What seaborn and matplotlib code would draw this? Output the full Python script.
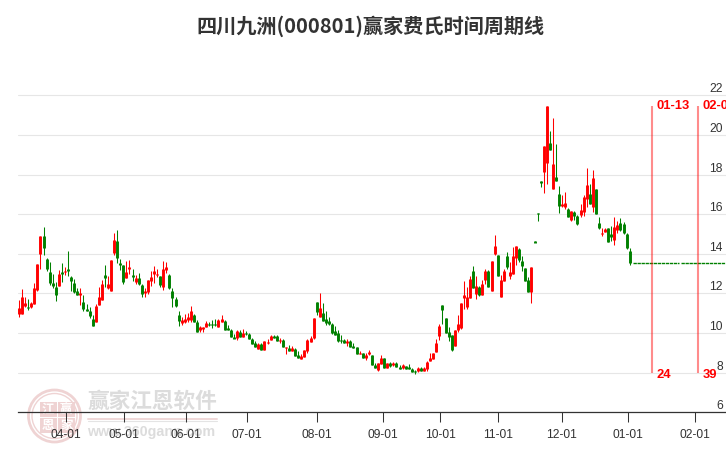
import seaborn as sns
import pandas as pd
import matplotlib.pyplot as plt
from matplotlib.patches import Circle, Rectangle

# daily candles
opens = [10.97,10.97,11.37,11.32,11.32,11.48,12.17,13.97,14.87,13.72,13.07,12.52,12.32,12.37,13.07,13.07,13.22,12.82,12.52,12.12,
 11.92,11.57,11.22,11.12,10.72,10.57,11.42,11.67,12.92,12.27,12.12,14.02,14.62,13.52,13.42,12.77,13.22,12.92,12.57,12.77,
 12.42,12.02,12.07,12.62,12.97,12.92,12.87,12.32,13.17,12.92,12.12,11.72,10.92,10.52,10.57,10.67,10.67,10.92,10.57,10.17,
 10.22,10.32,10.47,10.47,10.47,10.32,10.57,10.62,10.27,10.17,9.77,9.72,10.07,9.77,10.02,9.92,9.70,9.48,9.20,9.43,
 9.15,9.50,9.65,9.85,9.85,9.60,9.65,9.25,9.25,9.10,9.20,8.90,8.70,8.80,9.10,9.55,9.75,11.55,10.80,11.00,
 10.70,10.60,10.45,10.10,10.00,9.65,9.62,9.50,9.60,9.35,9.30,8.95,9.00,8.75,8.95,8.90,8.40,8.15,8.45,8.75,
 8.25,8.50,8.40,8.50,8.30,8.25,8.35,8.30,8.20,8.10,8.10,8.25,8.10,8.20,8.60,8.70,9.05,9.85,11.40,10.75,
 10.05,9.90,9.35,10.15,10.27,11.77,11.32,11.77,13.12,11.97,12.32,11.92,12.67,13.12,12.12,13.97,13.92,11.82,12.62,13.87,
 12.87,12.97,13.77,14.22,13.62,13.27,12.67,12.07,14.62,16.07,17.65,18.14,18.60,19.60,17.27,17.87,17.02,16.42,16.37,16.27,
 15.72,16.12,15.92,15.97,16.12,16.77,17.02,16.37,17.27,15.57,15.02,15.12,15.32,15.02,14.67,15.22,15.57,15.52,15.02,14.12]
closes = [11.27,11.80,11.52,11.27,11.52,12.25,13.50,14.87,14.27,13.22,12.50,12.37,11.92,13.00,12.97,13.12,13.12,12.62,12.07,11.92,
 12.02,11.22,11.12,10.87,10.37,11.37,11.82,12.47,12.77,12.47,13.67,14.67,13.77,13.42,12.57,13.07,13.32,12.82,12.77,12.47,
 11.97,12.12,12.67,12.82,13.12,12.97,12.42,13.22,13.32,12.27,11.77,11.37,10.62,10.67,10.72,10.82,11.12,10.57,10.07,10.32,
 10.32,10.52,10.42,10.42,10.42,10.67,10.72,10.17,10.17,9.77,9.72,10.12,9.77,10.02,9.92,9.67,9.45,9.30,9.45,9.15,
 9.60,9.55,9.85,9.75,9.60,9.65,9.30,9.30,9.10,9.25,8.85,8.75,8.85,9.15,9.65,9.75,10.75,11.05,11.25,10.60,
 10.50,10.45,10.00,9.90,9.60,9.60,9.50,9.58,9.30,9.25,8.95,8.98,8.75,8.90,9.05,8.40,8.25,8.50,8.75,8.25,
 8.50,8.35,8.50,8.30,8.20,8.40,8.20,8.20,8.05,8.05,8.25,8.10,8.25,8.55,8.75,9.00,9.50,10.35,11.15,10.00,
 9.80,9.15,10.15,10.45,11.52,11.92,11.82,12.72,12.27,12.37,11.92,12.47,13.12,12.32,13.62,14.37,12.87,12.67,13.12,13.32,
 13.07,13.87,14.37,13.67,13.37,12.62,12.07,13.32,14.58,16.03,17.61,19.46,21.44,19.25,18.54,17.67,16.42,16.52,16.57,15.87,
 16.17,15.92,15.52,16.22,16.87,17.47,16.52,17.82,16.02,15.32,15.07,15.27,14.57,14.82,15.37,15.47,15.22,15.07,14.27,13.52]
highs = [11.67,12.22,11.80,11.72,11.57,12.50,13.50,14.87,15.37,13.77,13.57,12.97,12.57,13.17,13.52,13.32,14.12,12.87,12.72,12.27,
 12.27,11.92,11.47,11.32,10.92,11.47,12.32,12.67,13.42,12.87,13.67,15.07,15.22,13.72,13.42,13.62,13.67,13.22,12.92,13.02,
 12.47,12.27,12.67,13.12,13.37,13.22,12.87,13.62,13.57,12.97,12.27,11.82,11.12,10.82,10.97,11.02,11.37,10.97,10.67,10.37,
 10.32,10.62,10.57,10.67,10.72,10.72,10.92,10.67,10.42,10.22,9.97,10.17,10.17,10.22,10.12,10.02,9.75,9.60,9.50,9.48,
 9.60,9.70,9.90,9.90,9.90,9.75,9.70,9.30,9.40,9.35,9.25,9.10,8.95,9.15,9.70,9.85,10.75,11.55,12.00,11.50,
 11.10,10.80,10.50,10.35,10.15,9.90,9.70,9.70,9.65,9.50,9.30,9.10,9.00,9.00,9.15,8.90,8.50,8.50,8.90,8.75,
 8.50,8.55,8.55,8.55,8.40,8.45,8.35,8.45,8.25,8.15,8.30,8.30,8.30,8.60,9.00,9.00,9.70,10.45,11.40,10.75,
 10.30,9.90,10.15,10.90,11.52,12.62,12.32,12.87,13.37,12.87,12.37,12.67,13.22,13.17,13.62,14.97,13.92,12.92,13.22,14.07,
 13.57,14.32,14.37,14.27,13.87,13.27,12.82,13.32,14.62,16.07,17.65,19.46,21.44,20.22,20.88,19.52,17.42,16.97,17.12,16.32,
 16.17,16.17,15.97,16.52,16.97,18.32,17.52,18.22,17.27,15.87,15.32,15.32,15.32,15.42,15.87,15.67,15.82,15.62,15.07,14.27]
lows = [10.78,10.97,11.30,11.18,11.27,11.48,12.12,13.22,13.92,13.12,12.42,12.27,11.62,12.37,12.57,12.92,12.87,12.12,12.02,11.92,
 11.42,11.12,11.12,10.77,10.37,10.57,11.42,11.67,12.32,12.22,12.12,13.92,13.52,13.17,12.47,12.77,12.97,12.62,12.47,12.42,
 11.82,11.82,11.97,12.37,12.52,12.82,12.32,12.17,13.02,12.22,11.32,11.32,10.37,10.42,10.52,10.57,10.57,10.57,10.07,10.07,
 10.07,10.32,10.37,10.27,10.37,10.32,10.57,10.17,10.17,9.77,9.72,9.62,9.77,9.77,9.87,9.67,9.45,9.30,9.20,9.15,
 9.15,9.45,9.65,9.75,9.60,9.50,9.30,8.95,9.10,9.10,8.85,8.75,8.70,8.80,9.00,9.55,9.70,10.90,10.80,10.60,
 10.40,10.40,9.95,9.90,9.55,9.50,9.50,9.35,9.30,9.25,8.95,8.95,8.75,8.65,8.90,8.40,8.25,8.10,8.45,8.25,
 8.25,8.30,8.35,8.30,8.20,8.20,8.20,8.20,8.05,7.90,8.05,8.10,8.10,8.10,8.60,8.70,9.05,9.65,10.45,10.00,
 9.60,9.10,9.35,10.05,10.22,11.22,11.22,11.77,12.27,11.72,11.87,11.92,12.47,12.32,12.12,13.92,12.87,11.82,12.62,13.22,
 12.72,12.97,13.42,13.57,13.12,12.62,12.07,11.52,14.58,15.67,17.37,17.07,17.52,19.25,17.27,17.67,16.07,16.37,16.27,15.87,
 15.67,15.72,15.47,15.87,15.92,16.37,16.52,16.12,16.02,15.27,14.92,15.12,14.57,14.62,14.42,15.07,15.17,15.02,14.22,13.42]

# projected flat part after the last real day, with one missing day
flat_days = [200,215.2,215.7,230]
flat_price = [13.55,13.55,13.55,13.55]
flat_seg = ['a','a','b','b']

tick_pos = [15.3,34.2,54.4,74.3,97.2,118.7,137.3,156.2,176.8,198.6,220.3]
tick_labels = ['04-01','05-01','06-01','07-01','08-01','09-01','10-01','11-01','12-01','01-01','02-01']
y_ticks = [6,8,10,12,14,16,18,20,22]
cycle_pos = [206.3,221.3]
cycle_dates = ['01-13','02-07']
cycle_counts = ['24','39']

sns.set_theme(style='white')
plt.rcParams['font.family'] = ['Liberation Sans', 'DejaVu Sans']

days = list(range(len(opens)))
df = pd.DataFrame({'day':days,'o':opens,'c':closes,'h':highs,'l':lows})
df['trend'] = ['up' if b>=a else 'down' for a,b in zip(opens,closes)]
wicks = df.melt(id_vars=['day','trend'],value_vars=['h','l'],value_name='price')

# a body needs a bit over one pixel of height or the snapping swallows it
df['top'] = df[['o','c']].max(axis=1)
df['bot'] = df[['o','c']].min(axis=1).where(df['o'].sub(df['c']).abs()>=0.06,df['top']-0.06)
bodies = df.melt(id_vars=['day','trend'],value_vars=['top','bot'],value_name='price')
flat = pd.DataFrame({'day':flat_days,'price':flat_price,'seg':flat_seg})
colors = {'up':'#ff0000','down':'#008000'}

fig = plt.figure(figsize=(7.26,4.5),dpi=100)

# watermark sits behind the chart, drawn in pixel coords
wm = fig.add_axes([0,0,1,1],zorder=0)
wm.set_xlim(0,726)
wm.set_ylim(450,0)
wm.axis('off')
pink = '#efd3d3'
wm.add_patch(Circle((54.5,416),26,fill=False,ec=pink,lw=2))
wm.add_patch(Circle((54.5,416),22.5,fill=False,ec=pink,lw=1))
for (bx,by,ch) in [(40,402,'江'),(58,402,'赢'),(40,418,'恩'),(58,418,'家')]:
    wm.add_patch(Rectangle((bx,by),16.5,15,fc=pink,ec='none'))
    wm.text(bx+8.2,by+7.5,ch,color='white',fontsize=9,ha='center',va='center',family='Noto Sans CJK SC',weight='bold')
wm.text(152.5,401,'赢家江恩软件',color='#dcdcdc',fontsize=15.6,ha='center',va='center',family='Noto Sans CJK SC',weight='bold')
wm.plot([88,217],[418.5,418.5],color='#f0d8d8',lw=1.4)
wm.plot([88,217],[420.5,420.5],color='#e4e4e4',lw=0.8)
wm.text(151,432,'www.360gann.com',color='#dcdcdc',fontsize=10.3,ha='center',va='center',weight='bold')

ax = fig.add_axes([18/726,(450-412.1)/450,708/726,342.1/450],zorder=1)
ax.patch.set_visible(False)

sns.lineplot(data=wicks,x='day',y='price',hue='trend',units='day',estimator=None,palette=colors,
             linewidth=0.75,solid_capstyle='butt',legend=False,ax=ax)
sns.lineplot(data=bodies,x='day',y='price',hue='trend',units='day',estimator=None,palette=colors,
             linewidth=2.1,solid_capstyle='butt',legend=False,ax=ax)
sns.lineplot(data=flat,x='day',y='price',units='seg',estimator=None,color='#008000',
             linewidth=1.0,linestyle=(0,(2.4,0.5)),legend=False,ax=ax)

ax.vlines(cycle_pos,7.95,21.45,color='#ff0000',alpha=0.45,lw=1.5)
for pos,d,n in zip(cycle_pos,cycle_dates,cycle_counts):
    ax.text(pos+1.5,21.44,d,color='#ff0000',fontsize=9.4,weight='bold',va='center',ha='left')
    ax.text(pos+1.5,7.86,n,color='#ff0000',fontsize=9.4,weight='bold',va='center',ha='left')

ax.set_xlim(-0.33,230.4)
ax.set_ylim(6,23.28)
ax.set_xlabel('')
ax.set_ylabel('')
ax.set_xticks(tick_pos,tick_labels)
ax.set_yticks(y_ticks,[str(v) for v in y_ticks])
ax.yaxis.tick_right()
ax.grid(axis='y',color='#e6e6e6',lw=0.8)
ax.set_axisbelow(True)
for s in ['top','left','right']:
    ax.spines[s].set_visible(False)
ax.spines['bottom'].set_color('#333333')
ax.spines['bottom'].set_linewidth(0.9)
ax.tick_params(axis='x',length=7.2,width=0.75,color='#333333',labelcolor='#333333',labelsize=8.64,pad=5,bottom=True)
ax.tick_params(axis='y',length=0,labelcolor='#333333',labelsize=8.64,pad=-2.2)
for t in ax.get_yticklabels():
    t.set_ha('right')
    t.set_va('bottom')

fig.text(371/726,1-26/450,'四川九洲(000801)赢家费氏时间周期线',color='#333333',fontsize=14.5,weight='bold',
         ha='center',va='center',family=['Noto Sans CJK SC','DejaVu Sans'])

fig.savefig('out.png',dpi=100)
